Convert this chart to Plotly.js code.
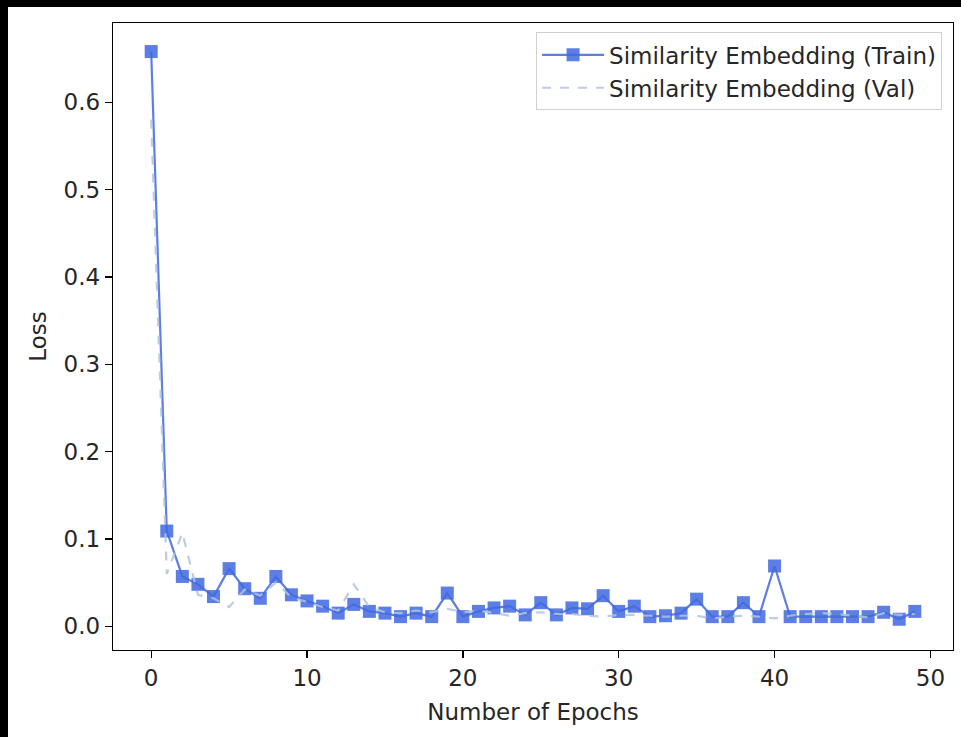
<!DOCTYPE html>
<html>
<head>
<meta charset="utf-8">
<script src="https://cdn.plot.ly/plotly-3.0.1.min.js"></script>
<style>
  html, body { margin: 0; padding: 0; background: #000; }
  #chart { position: absolute; left: 8px; top: 7px; width: 953px; height: 730px; background: #fff; }
</style>
</head>
<body>
<div id="chart"></div>
<script>
const epochs = Array.from({length: 50}, (_, i) => i);
const trainLoss = [0.658, 0.109, 0.057, 0.048, 0.034, 0.066, 0.043, 0.032, 0.057, 0.036,
                   0.029, 0.023, 0.015, 0.025, 0.017, 0.015, 0.011, 0.015, 0.011, 0.038,
                   0.011, 0.017, 0.021, 0.023, 0.013, 0.027, 0.013, 0.021, 0.020, 0.035,
                   0.017, 0.023, 0.011, 0.012, 0.015, 0.031, 0.011, 0.011, 0.027, 0.011,
                   0.069, 0.011, 0.011, 0.011, 0.011, 0.011, 0.011, 0.016, 0.008, 0.017];
const valLoss = [0.580, 0.060, 0.107, 0.036, 0.032, 0.022, 0.042, 0.035, 0.050, 0.033,
                 0.028, 0.022, 0.018, 0.048, 0.022, 0.016, 0.015, 0.018, 0.016, 0.020,
                 0.016, 0.018, 0.015, 0.012, 0.015, 0.016, 0.014, 0.014, 0.012, 0.011,
                 0.013, 0.013, 0.012, 0.011, 0.012, 0.012, 0.009, 0.011, 0.012, 0.011,
                 0.009, 0.012, 0.014, 0.015, 0.014, 0.012, 0.010, 0.015, 0.013, 0.014];
const seriesNames = ["Similarity Embedding (Train)", "Similarity Embedding (Val)"];
const xTicks = [0, 10, 20, 30, 40, 50];
const yTicks = [0.0, 0.1, 0.2, 0.3, 0.4, 0.5, 0.6];

const font = {family: "DejaVu Sans, sans-serif", size: 23, color: "#262626"};

const traces = [
  {
    x: epochs, y: trainLoss, name: seriesNames[0], type: "scatter", mode: "lines+markers",
    line: {color: "rgba(65,105,225,0.85)", width: 2.2},
    marker: {symbol: "square", size: 13, color: "rgba(65,105,225,0.85)", line: {width: 0}}
  },
  {
    x: epochs, y: valLoss, name: seriesNames[1], type: "scatter", mode: "lines",
    line: {color: "rgba(176,196,222,0.85)", width: 2.2, dash: "dash"}
  }
];

const layout = {
  width: 953, height: 730,
  paper_bgcolor: "#ffffff", plot_bgcolor: "#ffffff",
  margin: {l: 105, r: 8, t: 16, b: 87, pad: 0},
  font: font,
  showlegend: true,
  legend: {
    x: 0.987, y: 0.985, xanchor: "right", yanchor: "top",
    bgcolor: "rgba(255,255,255,0.8)", bordercolor: "#d0d0d0", borderwidth: 1,
    font: font, itemwidth: 62
  },
  xaxis: {
    range: [-2.45, 51.45], tickvals: xTicks, ticktext: xTicks.map(String),
    showgrid: false, zeroline: false, showline: true, mirror: true,
    linecolor: "#000", linewidth: 1.3, ticks: "outside", ticklen: 7, tickcolor: "#000", tickwidth: 1.3,
    tickfont: font,
    title: {text: "Number of Epochs", font: font, standoff: 14}
  },
  yaxis: {
    range: [-0.0272, 0.6907], tickvals: yTicks, ticktext: yTicks.map(v => v.toFixed(1)),
    showgrid: false, zeroline: false, showline: true, mirror: true,
    linecolor: "#000", linewidth: 1.3, ticks: "outside", ticklen: 7, tickcolor: "#000", tickwidth: 1.3,
    tickfont: font,
    title: {text: "Loss", font: font, standoff: 10}
  }
};

Plotly.newPlot("chart", traces, layout, {displayModeBar: false, staticPlot: true});
</script>
</body>
</html>
